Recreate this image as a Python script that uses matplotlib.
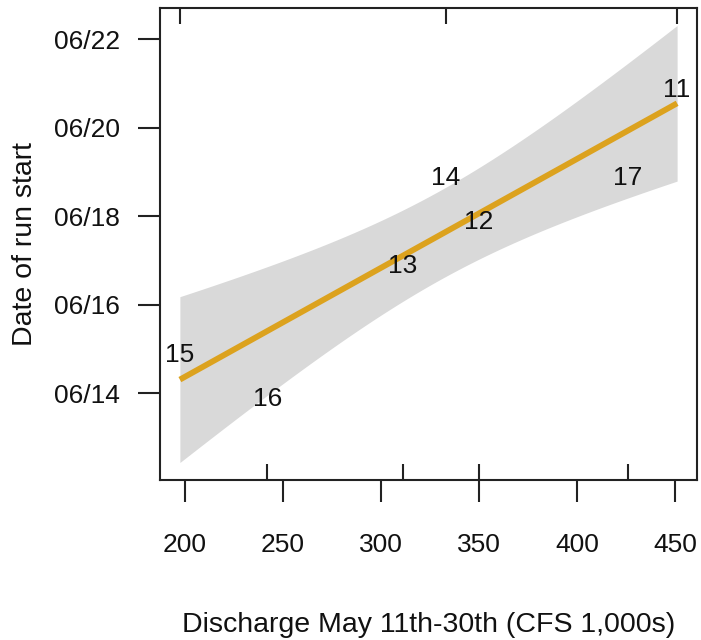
import numpy as np
import matplotlib
matplotlib.use("Agg")
import matplotlib.pyplot as plt
from matplotlib.ticker import FuncFormatter
from matplotlib.transforms import offset_copy

# Run-start dates (day of June) against mean May 11th-30th discharge, by year
years = ["11", "12", "13", "14", "15", "16", "17"]
discharge = [451.0, 350.0, 311.0, 333.0, 197.5, 242.0, 426.0]   # CFS, thousands
run_start_day = [21, 18, 17, 19, 15, 14, 19]                     # day of June

x_ticks = [200, 250, 300, 350, 400, 450]
y_ticks = [14, 16, 18, 20, 22]

T_975_DF5 = 2.5706  # two-sided 95% t quantile, 5 residual df

plt.rcParams["font.family"] = ["Liberation Sans", "DejaVu Sans"]

x = np.asarray(discharge)
y = np.asarray(run_start_day, dtype=float)
n = len(x)

# ordinary least squares fit with a 95% confidence band for the mean
slope, intercept = np.polyfit(x, y, 1)
resid = y - (intercept + slope * x)
s = np.sqrt(np.sum(resid ** 2) / (n - 2))
sxx = np.sum((x - x.mean()) ** 2)
xg = np.linspace(x.min(), x.max(), 200)
fit = intercept + slope * xg
se = s * np.sqrt(1.0 / n + (xg - x.mean()) ** 2 / sxx)
lo, hi = fit - T_975_DF5 * se, fit + T_975_DF5 * se

fig = plt.figure(figsize=(7.01, 6.40), dpi=100)
ax = fig.add_axes([160 / 701, 1 - 480 / 640, 537 / 701, 472 / 640])

ax.fill_between(xg, lo, hi, color="#d9d9d9", lw=0, zorder=1)
ax.plot(xg, fit, color="#dca21e", lw=4.2, solid_capstyle="butt", zorder=2)

label_tr = offset_copy(ax.transData, fig=fig, x=0, y=-2.6, units="points")
for lab, xi, yi in zip(years, x, y):
    ax.text(xi, yi, lab, ha="center", va="center_baseline", fontsize=19,
            color="#111111", zorder=3, transform=label_tr)

# rug: points above the fit along the top, below along the bottom
tr = ax.get_xaxis_transform()
above = resid > 0
ax.vlines(x[~above], 0, 0.033, transform=tr, color="#222222", lw=1.5, zorder=4)
ax.vlines(x[above], 1 - 0.033, 1, transform=tr, color="#222222", lw=1.5, zorder=4)

xr = x.max() - x.min()
ax.set_xlim(x.min() - 0.04 * xr, x.max() + 0.04 * xr)
yr = hi.max() - lo.min()
ax.set_ylim(lo.min() - 0.04 * yr, hi.max() + 0.04 * yr)

ax.set_xticks(x_ticks)
ax.set_yticks(y_ticks)
ax.yaxis.set_major_formatter(FuncFormatter(lambda v, p: f"06/{int(round(v)):02d}"))
ax.tick_params(axis="both", direction="out", length=16, width=1.5,
               color="#222222", labelsize=19, labelcolor="#111111")
ax.tick_params(axis="x", pad=22)
ax.tick_params(axis="y", pad=13)
for sp in ax.spines.values():
    sp.set_linewidth(1.5)
    sp.set_color("#222222")

ax.set_xlabel("Discharge May 11th-30th (CFS 1,000s)", fontsize=20.5, color="#111111",
              va="center")
ax.xaxis.set_label_coords(0.5, (480 - 625) / 472)
ax.set_ylabel("Date of run start", fontsize=20.5, color="#111111", va="center")
ax.yaxis.set_label_coords((25 - 160) / 537, 0.5)

fig.savefig("out.png", dpi=100)
